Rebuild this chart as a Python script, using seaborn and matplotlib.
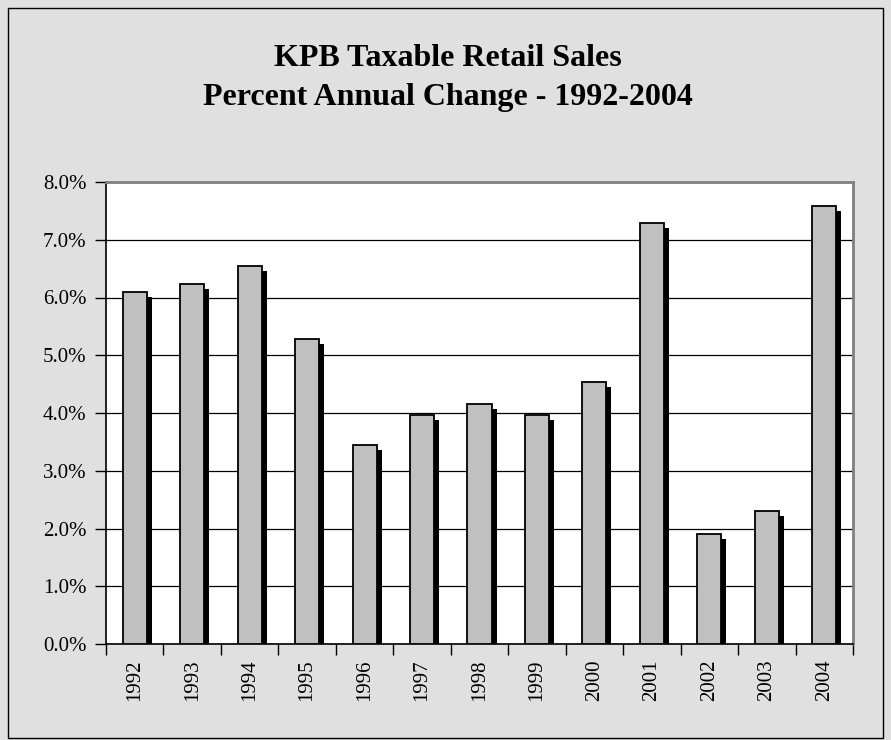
import numpy as np
import pandas as pd
import matplotlib
matplotlib.use("Agg")
import matplotlib.pyplot as plt
import matplotlib.patheffects as pe
from matplotlib.patches import Rectangle
from matplotlib.ticker import FixedLocator, FuncFormatter
import seaborn as sns

# data (percent annual change)
years = ['1992', '1993', '1994', '1995', '1996', '1997', '1998',
         '1999', '2000', '2001', '2002', '2003', '2004']
pct_change = [6.09, 6.23, 6.55, 5.28, 3.44, 3.97, 4.16,
              3.97, 4.54, 7.29, 1.90, 2.31, 7.58]

title_1 = 'KPB Taxable Retail Sales'
title_2 = 'Percent Annual Change - 1992-2004'

sns.set_theme(style='white')
plt.rcParams['font.family'] = ['Liberation Serif', 'DejaVu Serif']
plt.rcParams['text.color'] = 'black'
plt.rcParams['xtick.color'] = 'black'
plt.rcParams['ytick.color'] = 'black'

df = pd.DataFrame({'year': years, 'pct': pct_change})

fig = plt.figure(figsize=(8.91, 7.40), dpi=100)
fig.patch.set_facecolor('#e0e0e0')
# outer chart frame
fig.patches.append(Rectangle((8 / 891, 2 / 740), 875 / 891, 730 / 740,
                             transform=fig.transFigure, fill=False,
                             edgecolor='black', linewidth=1.0))

ax = fig.add_axes([106 / 891, 1 - 644 / 740, 747 / 891, 462 / 740])
ax.set_facecolor('white')

sns.barplot(data=df, x='year', y='pct', color='#c0c0c0', saturation=1,
            width=0.42, edgecolor='black', linewidth=1.3, ax=ax, zorder=3)

# drop shadow behind each bar
for bar in ax.patches:
    bar.set_path_effects([pe.SimplePatchShadow(offset=(3.6, -3.6),
                                               shadow_rgbFace='black',
                                               alpha=1.0),
                          pe.Normal()])

ax.set_ylim(0, 8)
ax.set_xlim(-0.5, len(years) - 0.5)
ax.yaxis.set_major_locator(FixedLocator(np.arange(0, 9, 1)))
ax.yaxis.set_major_formatter(FuncFormatter(lambda v, p: f'{v:.1f}%'))
ax.grid(axis='y', color='black', linewidth=0.9, zorder=0)
ax.set_axisbelow(True)

# ticks between categories, labels at the centres
ax.xaxis.set_minor_locator(FixedLocator(np.arange(-0.5, len(years), 1)))
ax.tick_params(axis='x', which='major', length=0, pad=11,
               labelsize=15, labelrotation=90, labelcolor='black')
ax.tick_params(axis='x', which='minor', length=8, width=1, color='black',
               direction='out', bottom=True)
ax.tick_params(axis='y', which='major', length=8, width=1, color='black',
               direction='out', left=True, pad=6, labelsize=15,
               labelcolor='black')
ax.set_xlabel('')
ax.set_ylabel('')

for side in ['left', 'bottom']:
    ax.spines[side].set_color('black')
    ax.spines[side].set_linewidth(1.2)
for side in ['top', 'right']:
    ax.spines[side].set_color('#808080')
    ax.spines[side].set_linewidth(2)

fig.text(0.503, 1 - 59 / 740, title_1, ha='center', va='center',
         fontsize=23, fontweight='bold', color='black')
fig.text(0.503, 1 - 98 / 740, title_2, ha='center', va='center',
         fontsize=23, fontweight='bold', color='black')

fig.savefig('out.png', dpi=100, facecolor=fig.get_facecolor())
